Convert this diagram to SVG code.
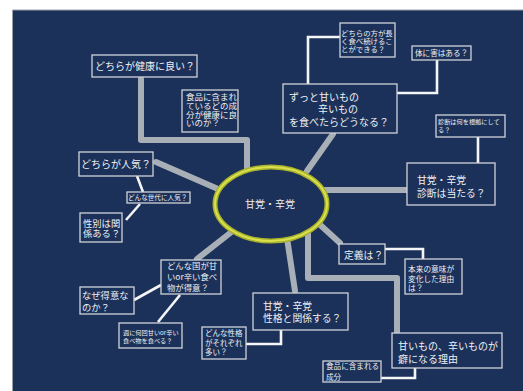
<svg xmlns="http://www.w3.org/2000/svg" width="523" height="391" viewBox="0 0 523 391">
<style>
.bg{fill:#1b3159}
.box{fill:#1b3159;stroke:#cfd3d9;stroke-width:1.3}
.t{font-family:"Noto Sans CJK JP","Noto Sans",sans-serif;fill:#eef0f3}
.g{fill:none;stroke:#a9afb6;stroke-width:6;stroke-linecap:round;stroke-linejoin:round}
.w{fill:none;stroke:#f4f5f7;stroke-width:2.6;stroke-linejoin:miter}
</style>
<rect x="0" y="0" width="523" height="391" fill="#ffffff"/>
<rect class="bg" x="12.5" y="10" width="511" height="381"/>
<path d="M12.5 391 V10 H523" fill="none" stroke="#9aa0a8" stroke-width="1"/>
<g id="connectors">
<polyline class="g" points="141,79 141,140 247,140 247,170"/>
<line class="g" x1="156" y1="162" x2="218" y2="189"/>
<line class="g" x1="197" y1="259" x2="234" y2="230"/>
<line class="g" x1="287" y1="238" x2="295" y2="291"/>
<line class="g" x1="317" y1="222" x2="340" y2="243"/>
<polyline class="g" points="308,229 308,278 397,278 397,332"/>
<line class="g" x1="333" y1="134" x2="307" y2="171"/>
<line class="g" x1="323" y1="190" x2="408" y2="190"/>
<line class="w" x1="137" y1="176" x2="143" y2="192"/>
<line class="w" x1="140" y1="204" x2="126" y2="220"/>
<line class="w" x1="134" y1="300" x2="161" y2="285"/>
<line class="w" x1="158" y1="322" x2="180" y2="295"/>
<polyline class="w" points="246,344 281,344 281,330"/>
<polyline class="w" points="385,249 423,249 423,259"/>
<polyline class="w" points="381,378 415,378 415,368"/>
<polyline class="w" points="340,37 308,37 308,84"/>
<polyline class="w" points="397,93 437,93 437,60"/>
<line class="w" x1="478" y1="137" x2="478" y2="163"/>
</g>
<g id="center">
<ellipse cx="271" cy="204" rx="56" ry="37" fill="#1b3159" stroke="#a9b22a" stroke-width="5"/>
<ellipse cx="271" cy="204" rx="56" ry="37" fill="none" stroke="#d9e04e" stroke-width="2"/>
<text class="t" x="270" y="207.5" font-size="10" text-anchor="middle">甘党・辛党</text>
</g>
<g id="n-health">
<rect class="box" x="92" y="55" width="105" height="22"/>
<text class="t" x="95" y="70" font-size="10">どちらが健康に良い？</text>
</g>
<g id="n-ingredient">
<rect class="box" x="182" y="90" width="56" height="42"/>
<text class="t" font-size="8.5"><tspan x="186" y="100">食品に含まれ</tspan><tspan x="186" y="109">ているどの成</tspan><tspan x="186" y="117.5">分が健康に良</tspan><tspan x="186" y="126">いのか？</tspan></text>
</g>
<g id="n-popular">
<rect class="box" x="79" y="152" width="74" height="24"/>
<text class="t" x="81" y="168" font-size="10">どちらが人気？</text>
</g>
<g id="n-generation">
<rect class="box" x="127" y="192" width="63" height="11"/>
<text class="t" x="128" y="200" font-size="6.6">どんな世代に人気？</text>
</g>
<g id="n-gender">
<rect class="box" x="80" y="213" width="42" height="29"/>
<text class="t" font-size="9.3"><tspan x="83" y="226.5">性別は関</tspan><tspan x="83" y="236.5">係ある？</tspan></text>
</g>
<g id="n-country">
<rect class="box" x="161" y="260" width="60" height="34"/>
<text class="t" font-size="8.4"><tspan x="167" y="269">どんな国が甘</tspan><tspan x="167" y="280">いor辛い食べ</tspan><tspan x="167" y="291">物が得意？</tspan></text>
</g>
<g id="n-why">
<rect class="box" x="80" y="287" width="54" height="27"/>
<text class="t" font-size="9.3"><tspan x="82" y="298.5">なぜ得意な</tspan><tspan x="82" y="310.5">のか？</tspan></text>
</g>
<g id="n-week">
<rect class="box" x="119" y="323" width="63" height="25"/>
<text class="t" font-size="6.2"><tspan x="123" y="335">週に何回甘いor辛い</tspan><tspan x="123" y="343">食べ物を食べる？</tspan></text>
</g>
<g id="n-personality">
<rect class="box" x="202" y="327" width="44" height="32"/>
<text class="t" font-size="7.5"><tspan x="205" y="336">どんな性格</tspan><tspan x="205" y="346">がそれぞれ</tspan><tspan x="205" y="355">多い？</tspan></text>
</g>
<g id="n-relation">
<rect class="box" x="253" y="293" width="95" height="37"/>
<text class="t" font-size="9.8"><tspan x="263" y="309.5">甘党・辛党</tspan><tspan x="263" y="321.5">性格と関係する？</tspan></text>
</g>
<g id="n-definition">
<rect class="box" x="339" y="244" width="46" height="20"/>
<text class="t" x="344" y="258.5" font-size="9.8">定義は？</text>
</g>
<g id="n-meaning">
<rect class="box" x="405" y="259" width="57" height="35"/>
<text class="t" font-size="7.7"><tspan x="408" y="272">本来の意味が</tspan><tspan x="408" y="282">変化した理由</tspan><tspan x="408" y="291">は？</tspan></text>
</g>
<g id="n-habit">
<rect class="box" x="392" y="333" width="110" height="35"/>
<text class="t" font-size="10"><tspan x="398" y="349.5">甘いもの、辛いものが</tspan><tspan x="398" y="362.5">癖になる理由</tspan></text>
</g>
<g id="n-component">
<rect class="box" x="323" y="361" width="58" height="21"/>
<text class="t" font-size="7.6"><tspan x="326" y="369">食品に含まれる</tspan><tspan x="326" y="380">成分</tspan></text>
</g>
<g id="n-eat">
<rect class="box" x="283" y="84" width="114" height="49"/>
<text class="t" font-size="10"><tspan x="289" y="100.5">ずっと甘いもの</tspan><tspan x="318" y="113">辛いもの</tspan><tspan x="289" y="125.5">を食べたらどうなる？</tspan></text>
</g>
<g id="n-longer">
<rect class="box" x="340" y="23" width="55" height="34"/>
<text class="t" font-size="7.4"><tspan x="341" y="36">どちらの方が長</tspan><tspan x="341" y="44">く食べ続けるこ</tspan><tspan x="341" y="52">とができる？</tspan></text>
</g>
<g id="n-harm">
<rect class="box" x="412" y="46" width="59" height="14"/>
<text class="t" x="415" y="55.5" font-size="7.6">体に害はある？</text>
</g>
<g id="n-basis">
<rect class="box" x="436" y="115" width="69" height="22"/>
<text class="t" font-size="6.2"><tspan x="438" y="124">診断は何を根拠にして</tspan><tspan x="438" y="132">る？</tspan></text>
</g>
<g id="n-diagnosis">
<rect class="box" x="407" y="163" width="88" height="42"/>
<text class="t" font-size="9.8"><tspan x="417" y="183.5">甘党・辛党</tspan><tspan x="417" y="196.5">診断は当たる？</tspan></text>
</g>
</svg>
